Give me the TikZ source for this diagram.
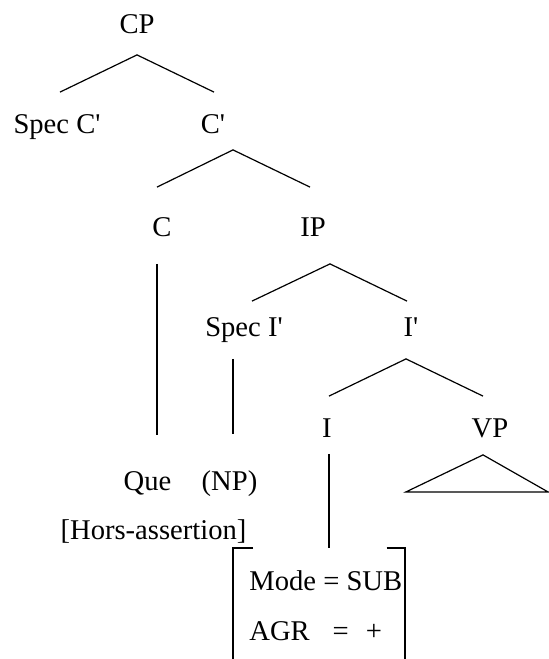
\documentclass[tikz,border=0pt]{standalone}
\usepackage{fontspec}
\setmainfont{Liberation Serif}
\usepackage{tikz}
\usetikzlibrary{calc}

\begin{document}
\begin{tikzpicture}[x=0.5pt,y=-0.5pt]
\tikzset{font=\fontsize{14.3}{17}\selectfont}
\tikzset{every node/.style={inner sep=0pt, text height=9.5pt, text depth=0pt}}
\tikzset{branch/.style={draw, line width=0.6pt}}
\useasboundingbox (0,0) rectangle (549,659);
\node (cp) at (137,24) {CP};
\node (specc) at (57,124) {Spec C\textquotesingle};
\node (cbar) at (213,124) {C\textquotesingle};
\node (c) at (162,227) {C};
\node (ip) at (313,227) {IP};
\node (speci) at (244,327) {Spec I\textquotesingle};
\node (ibar) at (411,327) {I\textquotesingle};
\node (i) at (327,428) {I};
\node (vp) at (490,428) {VP};
\node (que) at (147.5,481) {Que};
\node (np) at (229.5,481) {(NP)};
\node (hors) at (153.5,530) {[Hors-assertion]};
\node[anchor=west] (mode) at (249,581) {Mode = SUB};
\node[anchor=west] (agr) at (249,631) {AGR\hspace{0.8em}=\hspace{0.6em}+};
\coordinate (feat) at (329,548);
\path[branch] (specc.north) ++(3,-22) -- ($(cp.south)+(0,21)$) -- ($(cbar.north)+(1,-22)$);
\path[branch] (c.north) ++(-5,-30) -- ($(cbar.south)+(20,16)$) -- ($(ip.north)+(-3,-30)$);
\path[branch] (speci.north) ++(8,-16) -- ($(ip.south)+(17,27)$) -- ($(ibar.north)+(-4,-16)$);
\path[branch] (i.north) ++(2,-22) -- ($(ibar.south)+(-5,22)$) -- ($(vp.north)+(-7,-22)$);
\path[branch] ($(c.south)+(-5,27)$) -- ($(que.north)+(9.5,-36)$);
\path[branch] ($(speci.south)+(-11,22)$) -- ($(np.north)+(3.5,-37)$);
\path[branch] ($(i.south)+(2,16)$) -- (feat);
\path[branch] ($(vp.south)+(-7,17)$) -- ++(-77,37) -- ++(142,0) -- cycle;
\path[branch] ($(mode.west)+(4,-33)$) -| (233,659);
\path[branch] ($(mode.east)+(-16,-33)$) -| (405,659);
\end{tikzpicture}
\end{document}
